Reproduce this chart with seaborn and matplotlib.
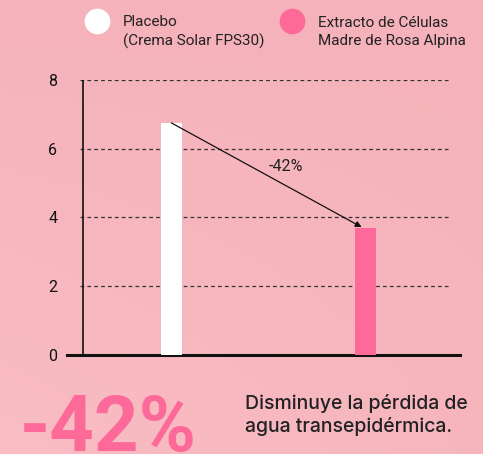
import numpy as np
import pandas as pd
import seaborn as sns
import matplotlib.pyplot as plt
from matplotlib.lines import Line2D
from matplotlib.colors import LinearSegmentedColormap

# data
groups = ['Placebo', 'mid', 'Extracto']
values = [6.75, np.nan, 3.68]
legend_labels = ['Placebo\n(Crema Solar FPS30)', 'Extracto de Células\nMadre de Rosa Alpina']
bar_colors = ['#ffffff', '#fd6a99']
y_ticks = [0, 2, 4, 6, 8]
change_label = '-42%'

bg = '#f6b4bc'
pink = '#fd6a99'
txt = '#222222'

sns.set_style('white')
plt.rcParams['font.family'] = ['Roboto', 'DejaVu Sans']

fig = plt.figure(figsize=(4.83, 4.54), dpi=100)
fig.patch.set_facecolor(bg)

# soft gradient background
bgax = fig.add_axes([0, 0, 1, 1], zorder=-10)
gx, gy = np.meshgrid(np.linspace(0, 1, 200), np.linspace(0, 1, 200))
grad = np.clip(0.6 * (1 - gx) * gy + 0.3 * gy, 0, 1)
cmap = LinearSegmentedColormap.from_list('bg', ['#f5b2ba', '#fabdc4'])
bgax.imshow(grad, cmap=cmap, aspect='auto', extent=[0, 1, 0, 1], origin='upper')
bgax.axis('off')

ax = fig.add_axes([67 / 483, 1 - 355 / 454, 393 / 483, 275 / 454])
ax.set_facecolor('none')

df = pd.DataFrame({'group': groups, 'value': values})
sns.barplot(data=df, x='group', y='value', hue='group', order=groups,
            palette=dict(zip(groups, ['#ffffff', '#ffffff', pink])),
            width=0.216, legend=False, saturation=1, linewidth=0,
            ax=ax, zorder=3)

ax.set_xlim(-1.077, 2.974)
ax.set_ylim(0, 8)
ax.set_xlabel('')
ax.set_ylabel('')

for s in ['top', 'right', 'left']:
    ax.spines[s].set_visible(False)
ax.spines['bottom'].set_linewidth(2.2)
ax.spines['bottom'].set_color('#111111')

# grid lines and left axis line
for yv in y_ticks[1:]:
    ax.hlines(yv, -0.94, 2.85, colors='#333333', linestyles=(0, (3, 2.5)), lw=0.9, zorder=1)
ax.vlines(-0.912, 0, 8, colors='#111111', lw=1.2, zorder=2)

ax.set_yticks(y_ticks)
ax.set_yticklabels([str(v) for v in y_ticks], fontsize=11.5, color='#111111')
ax.tick_params(axis='y', length=0, pad=7)
ax.set_xticks([1])
ax.set_xticklabels([''])
ax.tick_params(axis='x', direction='in', length=8, width=2, color='#111111')

# arrow between bars
ax.annotate('', xy=(1.96, 3.72), xytext=(0.0, 6.75),
            arrowprops=dict(arrowstyle='-|>', color='#111111', lw=0.9,
                            mutation_scale=9, shrinkA=0, shrinkB=0), zorder=4)
ax.text(1.18, 5.47, change_label, fontsize=11.5, color='#222222', ha='center', va='center')

# legend (placed by hand)
for cx, col, lab in zip([97, 292], bar_colors, legend_labels):
    fig.add_artist(Line2D([cx / 483], [1 - 21 / 454], transform=fig.transFigure,
                          marker='o', ls='', markersize=17.5,
                          markerfacecolor=col, markeredgecolor=col))
    fig.text((cx + 26) / 483, 1 - 32 / 454, lab, fontsize=11, color=txt,
             ha='left', va='center', linespacing=1.4)

# bottom texts
fig.text(20 / 483, 1 - 451 / 454, change_label, fontsize=56, fontweight='bold',
         color=pink, ha='left', va='baseline')
fig.text(245 / 483, 1 - 415 / 454, 'Disminuye la pérdida de\nagua transepidérmica.',
         fontsize=14, color=txt, ha='left', va='center', linespacing=1.3,
         family=['Inter', 'DejaVu Sans'], fontweight='medium')

fig.savefig('out.png', dpi=100, facecolor=fig.get_facecolor())
